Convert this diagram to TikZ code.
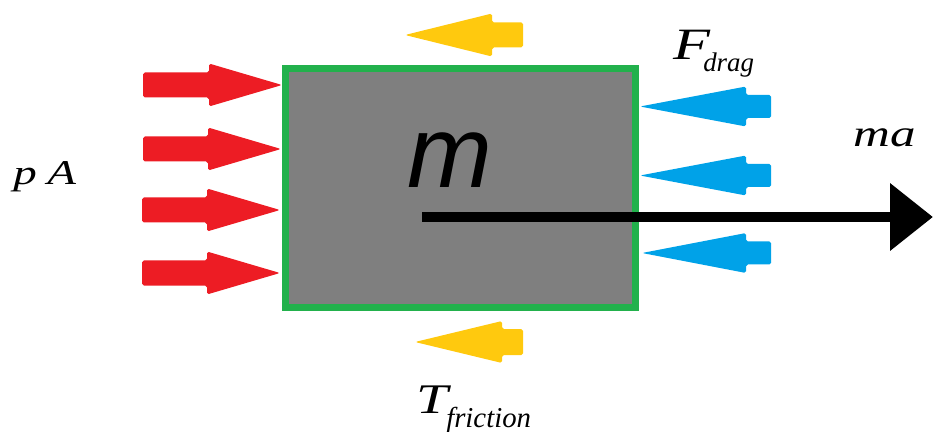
\documentclass[tikz,border=0pt]{standalone}
\usepackage{fontspec}
\setmainfont{Liberation Serif}
\newfontfamily\labelserif{Liberation Serif}
\newfontfamily\blocksans{Liberation Sans}
\usetikzlibrary{arrows.meta}
\definecolor{paintred}{HTML}{ED1C24}
\definecolor{paintblue}{HTML}{00A2E8}
\definecolor{paintyellow}{HTML}{FFC90E}
\definecolor{paintgreen}{HTML}{22B14C}
\definecolor{paintgray}{HTML}{7F7F7F}
% tip x, y, head back x, tail x, head half width, shaft half width, colour
\newcommand{\forcearrow}[7]{%
  \fill[#7,rounded corners=1pt] (#1,#2) -- (#3,#2-#5) -- (#3,#2-#6) -- (#4,#2-#6)
    -- (#4,#2+#6) -- (#3,#2+#6) -- (#3,#2+#5) -- cycle;
}
\newcommand{\wide}[1]{\scalebox{1.35}[1]{#1}}
\tikzset{
  forcelabel/.style={anchor=base west,inner sep=0pt,font=\labelserif\itshape},
}

\begin{document}
\begin{tikzpicture}[x=0.02cm,y=-0.02cm]
  \useasboundingbox (0,0) rectangle (933,432);
  \node[draw=paintgreen,fill=paintgray,line width=0.14cm,minimum width=7cm,
        minimum height=4.78cm,anchor=north west,inner sep=0pt,outer sep=0pt]
        (block) at (285.5,68.5) {};
  \node[anchor=base west,inner sep=0pt,font=\blocksans\fontsize{58}{64}\selectfont\itshape]
        (mass) at (407,188) {m};
  % pressure
  \forcearrow{282}{85}{209}{143}{21.5}{12.5}{paintred}
  \forcearrow{281}{149}{208}{143}{21.5}{12.5}{paintred}
  \forcearrow{280}{210}{207}{142}{21.5}{12.5}{paintred}
  \forcearrow{280}{273}{207}{142}{21.5}{12.5}{paintred}
  % drag
  \forcearrow{640}{106.5}{746}{771}{20}{11.5}{paintblue}
  \forcearrow{640}{175.5}{746}{771}{20}{11.5}{paintblue}
  \forcearrow{642}{253}{746}{771}{20}{11.5}{paintblue}
  % friction
  \forcearrow{405}{35}{492}{523}{21.5}{12.5}{paintyellow}
  \forcearrow{415}{342}{502}{523}{21}{13}{paintyellow}
  % resulting force
  \coordinate (accstart) at (422,217);
  \coordinate (accend) at (933,217);
  \draw[line width=0.22cm,-{Triangle[length=0.86cm,width=1.3cm]}] (accstart) -- (accend);
  \node[forcelabel,font=\labelserif\itshape\fontsize{19.8}{22}\selectfont] (pA) at (13,185)
        {\wide{p}\hspace{6pt}\wide{A}};
  \node[forcelabel,font=\labelserif\itshape\fontsize{21.5}{24}\selectfont] (ma) at (853,147)
        {\wide{m}\wide{a}};
  \node[forcelabel,font=\labelserif\itshape\fontsize{25.5}{28}\selectfont] (Fdrag) at (673,60)
        {\wide{F}\kern-4pt\raisebox{-6.8pt}{\fontsize{15.3}{18}\selectfont drag}};
  \node[forcelabel,font=\labelserif\itshape\fontsize{24}{28}\selectfont] (Tfric) at (416,413)
        {\wide{T}\kern-1pt\raisebox{-8pt}{\fontsize{16.4}{18}\selectfont friction}};
\end{tikzpicture}
\end{document}
